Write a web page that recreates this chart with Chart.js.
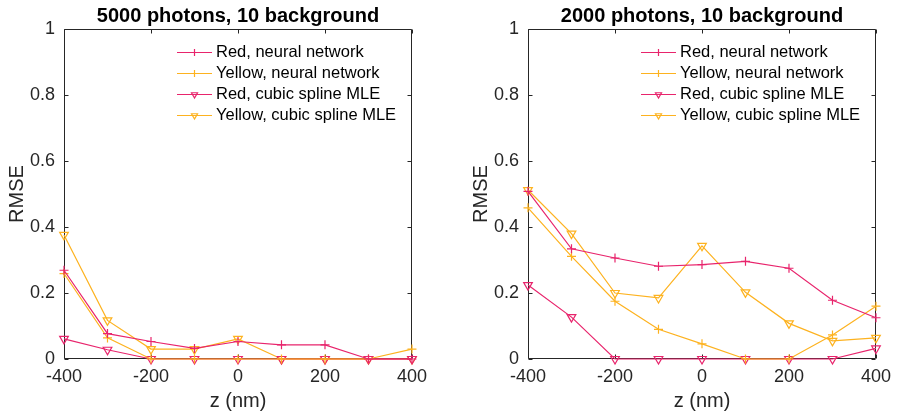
<!DOCTYPE html>
<html>
<head>
<meta charset="utf-8">
<script src="https://cdn.jsdelivr.net/npm/chart.js@4.4.1/dist/chart.umd.min.js"></script>
<style>
body { margin: 0; background: #fff; }
#wrap { position: relative; width: 898px; height: 411px; }
canvas { position: absolute; top: 0; }
</style>
</head>
<body>
<div id="wrap">
<canvas id="chartLeft" width="434" height="411" style="left:0px"></canvas>
<canvas id="chartRight" width="434" height="411" style="left:464px"></canvas>
</div>
<script>
const zValues = [-400, -300, -200, -100, 0, 100, 200, 300, 400];
const xTicks = [-400, -200, 0, 200, 400];
const yTicks = [0, 0.2, 0.4, 0.6, 0.8, 1];

// 5000 photons, 10 background
const redNN5000 = [0.269, 0.077, 0.053, 0.032, 0.053, 0.043, 0.043, 0.0, 0.0];
const yellowNN5000 = [0.259, 0.064, 0.0, 0.0, 0.0, 0.0, 0.0, 0.0, 0.030];
const redSpline5000 = [0.061, 0.028, 0.0, 0.0, 0.0, 0.0, 0.0, 0.0, 0.0];
const yellowSpline5000 = [0.376, 0.117, 0.030, 0.030, 0.061, 0.0, 0.0, 0.0, 0.0];

// 2000 photons, 10 background
const redNN2000 = [0.508, 0.334, 0.306, 0.281, 0.286, 0.296, 0.275, 0.178, 0.125];
const yellowNN2000 = [0.458, 0.311, 0.175, 0.090, 0.046, 0.0, 0.0, 0.073, 0.160];
const redSpline2000 = [0.224, 0.127, 0.0, 0.0, 0.0, 0.0, 0.0, 0.0, 0.032];
const yellowSpline2000 = [0.512, 0.380, 0.200, 0.185, 0.343, 0.202, 0.108, 0.055, 0.064];

const seriesLabels = ["Red, neural network", "Yellow, neural network", "Red, cubic spline MLE", "Yellow, cubic spline MLE"];

const RED = "#e8246c";
const YELLOW = "#fdb21f";
const AXIS = "#262626";
const FONT = "'Liberation Sans', Arial, Helvetica, sans-serif";

// box round the plot with ticks pointing inwards, like matlab
const boxTicks = {
    id: "boxTicks",
    beforeDatasetsDraw(chart) {
        const a = chart.chartArea;
        const ctx = chart.ctx;
        const sx = chart.scales.x;
        const sy = chart.scales.y;
        const L = Math.round(a.left) + 0.5, R = Math.round(a.right) - 0.5;
        const T = Math.round(a.top) + 0.5, B = Math.round(a.bottom) - 0.5;
        ctx.save();
        ctx.strokeStyle = AXIS;
        ctx.lineWidth = 1;
        ctx.beginPath();
        ctx.rect(L, T, R - L, B - T);
        xTicks.forEach((v) => {
            const px = Math.round(sx.getPixelForValue(v)) + 0.5;
            ctx.moveTo(px, B); ctx.lineTo(px, B - 4);
            ctx.moveTo(px, T); ctx.lineTo(px, T + 4);
        });
        yTicks.forEach((v) => {
            const py = Math.round(sy.getPixelForValue(v)) + 0.5;
            ctx.moveTo(L, py); ctx.lineTo(L + 4, py);
            ctx.moveTo(R, py); ctx.lineTo(R - 4, py);
        });
        ctx.stroke();
        ctx.restore();
    },
};

// legend inside the axes, top right, line + marker + text
const insideLegend = {
    id: "insideLegend",
    afterDraw(chart) {
        const a = chart.chartArea;
        const ctx = chart.ctx;
        ctx.save();
        ctx.font = "16.5px " + FONT;
        ctx.textBaseline = "middle";
        chart.data.datasets.forEach((ds, i) => {
            const yy = Math.round(a.top + 23 + i * 21) + 0.5;
            const x0 = a.left + 113;
            ctx.strokeStyle = ds.borderColor;
            ctx.lineWidth = 1.2;
            ctx.beginPath();
            ctx.moveTo(x0, yy);
            ctx.lineTo(x0 + 35, yy);
            ctx.stroke();
            ctx.fillStyle = "rgba(0,0,0,0)";
            Chart.helpers.drawPoint(ctx, {
                pointStyle: ds.pointStyle,
                radius: 3.5,
                rotation: ds.pointRotation,
                borderWidth: 1.2,
            }, x0 + 17.5, yy);
            ctx.fillStyle = "#000";
            ctx.fillText(ds.label, x0 + 39, yy);
        });
        ctx.restore();
    },
};

function points(values) {
    return zValues.map((z, i) => ({ x: z, y: values[i] }));
}

function series(label, values, color, marker) {
    return {
        label: label,
        data: points(values),
        borderColor: color,
        borderWidth: 1.2,
        pointStyle: marker,
        pointRotation: marker === "triangle" ? 180 : 0,
        pointRadius: marker === "triangle" ? 5 : 4.5,
        pointBorderColor: color,
        pointBackgroundColor: "rgba(0,0,0,0)",
        pointBorderWidth: 1.2,
        tension: 0,
        clip: false,
    };
}

function makeChart(id, title, rn, yn, rs, ys) {
    const ctx = document.getElementById(id).getContext("2d");
    return new Chart(ctx, {
        type: "line",
        data: {
            datasets: [
                series(seriesLabels[0], rn, RED, "cross"),
                series(seriesLabels[1], yn, YELLOW, "cross"),
                series(seriesLabels[2], rs, RED, "triangle"),
                series(seriesLabels[3], ys, YELLOW, "triangle"),
            ],
        },
        options: {
            responsive: false,
            animation: false,
            devicePixelRatio: 1,
            layout: { padding: { left: 0, right: 16, top: 0, bottom: 0 } },
            plugins: {
                legend: { display: false },
                tooltip: { enabled: false },
                title: {
                    display: true,
                    fullSize: false,
                    text: title,
                    color: "#000",
                    font: { family: FONT, size: 20, weight: "bold", lineHeight: 1 },
                    padding: { top: 6, bottom: 3 },
                },
            },
            scales: {
                x: {
                    type: "linear",
                    min: -400,
                    max: 400,
                    afterBuildTicks: (s) => { s.ticks = xTicks.map((v) => ({ value: v })); },
                    afterFit: (s) => { s.height = 52; },
                    ticks: { color: AXIS, font: { family: FONT, size: 18 }, padding: 7, maxRotation: 0 },
                    grid: { display: false, drawTicks: false },
                    border: { display: false },
                    title: {
                        display: true,
                        text: "z (nm)",
                        color: AXIS,
                        font: { family: FONT, size: 20, lineHeight: 1 },
                        padding: 0,
                    },
                },
                y: {
                    min: 0,
                    max: 1,
                    afterBuildTicks: (s) => { s.ticks = yTicks.map((v) => ({ value: v })); },
                    afterFit: (s) => { s.width = 64; },
                    ticks: {
                        color: AXIS,
                        font: { family: FONT, size: 18 },
                        padding: 9,
                        callback: (v) => String(v),
                    },
                    grid: { display: false, drawTicks: false },
                    border: { display: false },
                    title: {
                        display: true,
                        text: "RMSE",
                        color: AXIS,
                        font: { family: FONT, size: 20, lineHeight: 1 },
                        padding: { top: 7, bottom: 0 },
                    },
                },
            },
        },
        plugins: [boxTicks, insideLegend],
    });
}

const chartLeft = makeChart("chartLeft", "5000 photons, 10 background",
    redNN5000, yellowNN5000, redSpline5000, yellowSpline5000);
const chartRight = makeChart("chartRight", "2000 photons, 10 background",
    redNN2000, yellowNN2000, redSpline2000, yellowSpline2000);
</script>
</body>
</html>
